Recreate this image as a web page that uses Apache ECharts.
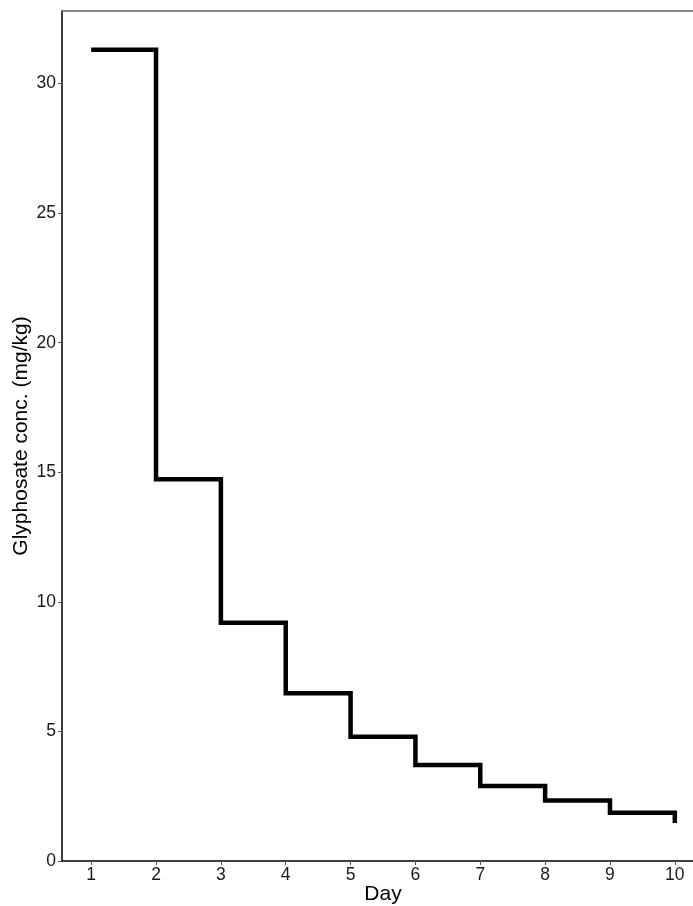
<!DOCTYPE html>
<html>
<head>
<meta charset="utf-8">
<script src="https://cdn.jsdelivr.net/npm/echarts@6/dist/echarts.min.js"></script>
<style>
html,body{margin:0;padding:0;background:#fff;}
#c{width:693px;height:906px;}
</style>
</head>
<body>
<div id="c"></div>
<script>
const days = [1, 2, 3, 4, 5, 6, 7, 8, 9, 10];
const conc = [31.3, 14.73, 9.19, 6.47, 4.79, 3.70, 2.89, 2.33, 1.86, 1.47];
const yTicks = [0, 5, 10, 15, 20, 25, 30];
const xTicks = days;

const chart = echarts.init(document.getElementById('c'), null, {renderer: 'canvas'});
const font = 'Liberation Sans';
chart.setOption({
  animation: false,
  backgroundColor: '#fff',
  grid: {left: 62, top: 11, width: 642, bottom: 45, containLabel: false, outerBoundsMode: 'none'},
  xAxis: [{
    type: 'value', min: 0.55, max: 10.45,
    name: 'Day', nameLocation: 'middle', nameGap: 23, nameMoveOverlap: false,
    nameTextStyle: {fontFamily: font, fontSize: 21, color: '#000'},
    axisLine: {show: true, onZero: false, lineStyle: {color: '#000', width: 1.5}},
    axisTick: {show: true, length: 4, customValues: xTicks, lineStyle: {color: '#555', width: 1}},
    axisLabel: {show: true, customValues: xTicks, margin: 5, fontFamily: font, fontSize: 17.5, color: '#1a1a1a'},
    splitLine: {show: false}
  }, {
    type: 'value', position: 'top', min: 0.55, max: 10.45,
    axisLine: {show: true, onZero: false, lineStyle: {color: '#666', width: 1.5}},
    axisTick: {show: false}, axisLabel: {show: false}, splitLine: {show: false}
  }],
  yAxis: {
    type: 'value', min: 0, max: 32.8,
    name: 'Glyphosate conc. (mg/kg)', nameLocation: 'middle', nameGap: 30, nameMoveOverlap: false,
    nameTextStyle: {fontFamily: font, fontSize: 21, color: '#000'},
    axisLine: {show: true, onZero: false, lineStyle: {color: '#000', width: 1.5}},
    axisTick: {show: true, length: 4, customValues: yTicks, lineStyle: {color: '#555', width: 1}},
    axisLabel: {show: true, customValues: yTicks, margin: 6, fontFamily: font, fontSize: 17.5, color: '#1a1a1a'},
    splitLine: {show: false}
  },
  series: [{
    type: 'line',
    step: 'end',
    data: days.map((d, i) => [d, conc[i]]),
    showSymbol: false,
    symbol: 'none',
    lineStyle: {color: '#000', width: 4.5, cap: 'butt', join: 'miter'},
    clip: false
  }]
});
</script>
</body>
</html>
